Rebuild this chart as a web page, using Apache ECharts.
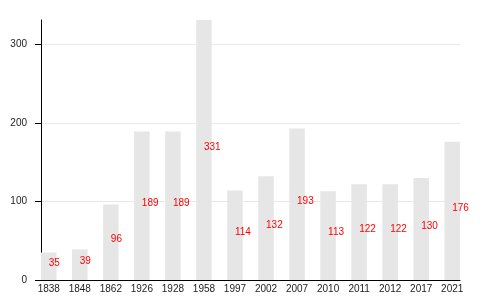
<!DOCTYPE html>
<html><head><meta charset="utf-8">
<script src="https://cdn.jsdelivr.net/npm/echarts@6/dist/echarts.min.js"></script>
<style>html,body{margin:0;padding:0;background:#fff}#c{width:500px;height:300px}</style>
</head><body><div id="c"></div>
<script>
var categories = ['1838','1848','1862','1926','1928','1958','1997','2002','2007','2010','2011','2012','2017','2021'];
var values = [35,39,96,189,189,331,114,132,193,113,122,122,130,176];
var yTicks = [0,100,200,300];

var FONT = 'Liberation Sans, Arial, Helvetica, sans-serif';
var idx = categories.map(function(_, i){ return i; });
var chart = echarts.init(document.getElementById('c'), null, {renderer:'canvas'});
chart.setOption({
  animation: false,
  grid: {left: 41, right: 40, top: 20, bottom: 20, containLabel: false},
  xAxis: {
    type: 'value', min: -0.25, max: categories.length - 0.75,
    axisLine: {show: true, onZero: false, lineStyle: {color: '#000', width: 1}},
    axisTick: {show: false},
    splitLine: {show: false},
    axisLabel: {
      customValues: idx, margin: 4, color: '#222', fontSize: 10, fontFamily: FONT,
      formatter: function(v){ return categories[Math.round(v)]; }
    }
  },
  yAxis: {
    type: 'value', min: 0, max: 331,
    axisLine: {show: true, onZero: false, lineStyle: {color: '#000', width: 1}},
    axisTick: {show: true, customValues: yTicks, length: 6, lineStyle: {color: '#000'}},
    axisLabel: {customValues: yTicks, margin: 14, color: '#222', fontSize: 10, fontFamily: FONT},
    splitLine: {show: true, lineStyle: {color: '#e8e8e8', width: 1}},
    interval: 100
  },
  series: [{
    type: 'bar',
    barWidth: 15.5,
    data: values.map(function(v, i){ return [i, v]; }),
    itemStyle: {color: '#e6e6e6'},
    label: {
      show: true, position: 'inside', align: 'left', offset: [0, -3],
      color: '#ff0000', fontSize: 10, fontFamily: FONT
    }
  }]
});
</script></body></html>
